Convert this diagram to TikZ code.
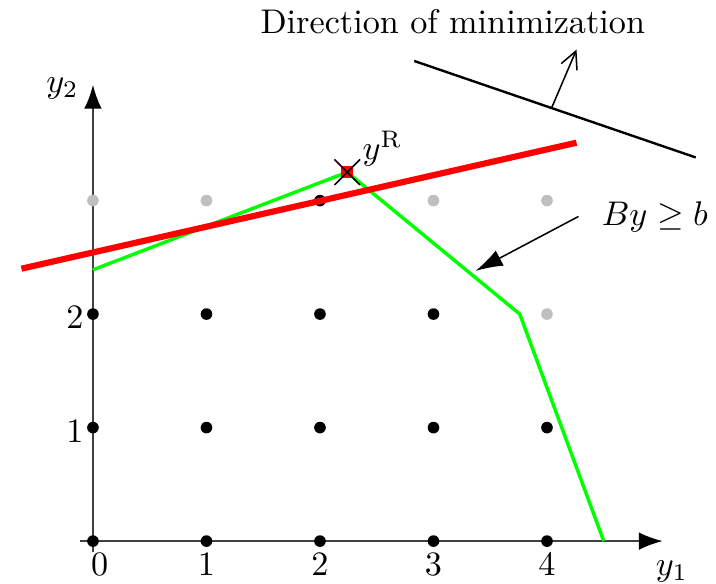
\documentclass[tikz,border=0pt]{standalone}
\usetikzlibrary{arrows.meta,shapes.misc,calc}
\begin{document}
\begin{tikzpicture}[x=1.166cm,y=1.166cm,>={Latex[length=7pt,width=5pt]},
  dot/.style={circle,fill=black,inner sep=0pt,minimum size=3.4pt},
  greydot/.style={dot,fill=black!25},
  axis/.style={black!75,line width=0.6pt,-{Latex[length=7pt,width=5.2pt,black]}}]
\useasboundingbox (-0.819,-0.370) rectangle (5.489,4.767);
% axes
\coordinate (xstart) at (-0.11,0);
\coordinate (xend) at (5.02,0);
\coordinate (ystart) at (0,-0.1);
\coordinate (yend) at (0,4.02);
\draw[axis] (xstart)--(xend);
\draw[axis] (ystart)--(yend);
\node (ylab1) at (5.10,-0.27) {$y_1$};
\node (ylab2) at (-0.27,3.99) {$y_2$};
\node[below] (xt0) at (0.06,0) {$0$};
\foreach \i in {1,...,4}
  \node[below] (xt\i) at (\i,0) {$\i$};
\foreach \j in {1,2}
  \node[anchor=east,yshift=-1pt,inner sep=2.6pt] (yt\j) at (0,\j) {$\j$};
% lattice points
\foreach \i in {0,...,4}
  \foreach \j in {0,1}
    \node[dot] (p\i\j) at (\i,\j) {};
\foreach \i in {0,...,3}
  \node[dot] (p\i2) at (\i,2) {};
\node[greydot] (p42) at (4,2) {};
\foreach \i in {0,1,3,4}
  \node[greydot] (p\i3) at (\i,3) {};
\node[dot] (p23) at (2,3) {};
% polyhedron and cut
\coordinate (yRc) at (2.24,3.25);
\coordinate (gstart) at (0,2.39);
\coordinate (gcorner) at (3.76,2.0);
\coordinate (gend) at (4.50,0);
\draw[green,line width=1pt] (gstart)--(yRc)--(gcorner)--(gend);
\coordinate (rstart) at (-0.63,2.40);
\coordinate (rend) at (4.26,3.51);
\draw[red,line width=1.8pt] (rstart)--(rend);
\node[fill=red,inner sep=0pt,minimum size=3.5pt] (yRsq) at (yRc) {};
\node[cross out,draw,line width=0.45pt,inner sep=0pt,minimum size=7pt] (yR) at (yRc) {};
\node (yRlab) at (2.55,3.46) {$y^{\mathrm{R}}$};
% direction of minimization
\coordinate (dstart) at (2.83,4.23);
\coordinate (dend) at (5.31,3.38);
\draw[line width=0.7pt] (dstart)--(dend);
\coordinate (dbase) at ($(dstart)!0.488!(dend)$);
\coordinate (dtip) at (4.26,4.33);
\draw[-{Straight Barb[length=5pt,width=5pt]},line width=0.45pt] (dbase)--(dtip);
\node (dirlab) at (3.17,4.573) {Direction of minimization};
% label of the cut
\node[outer sep=3.5pt] (bylab) at (4.95,2.86) {$By \geq b$};
\coordinate (bytip) at (3.37,2.38);
\draw[->,line width=0.45pt,>={Latex[length=8pt,width=5pt]}] (bylab.west)--(bytip);
\end{tikzpicture}
\end{document}
